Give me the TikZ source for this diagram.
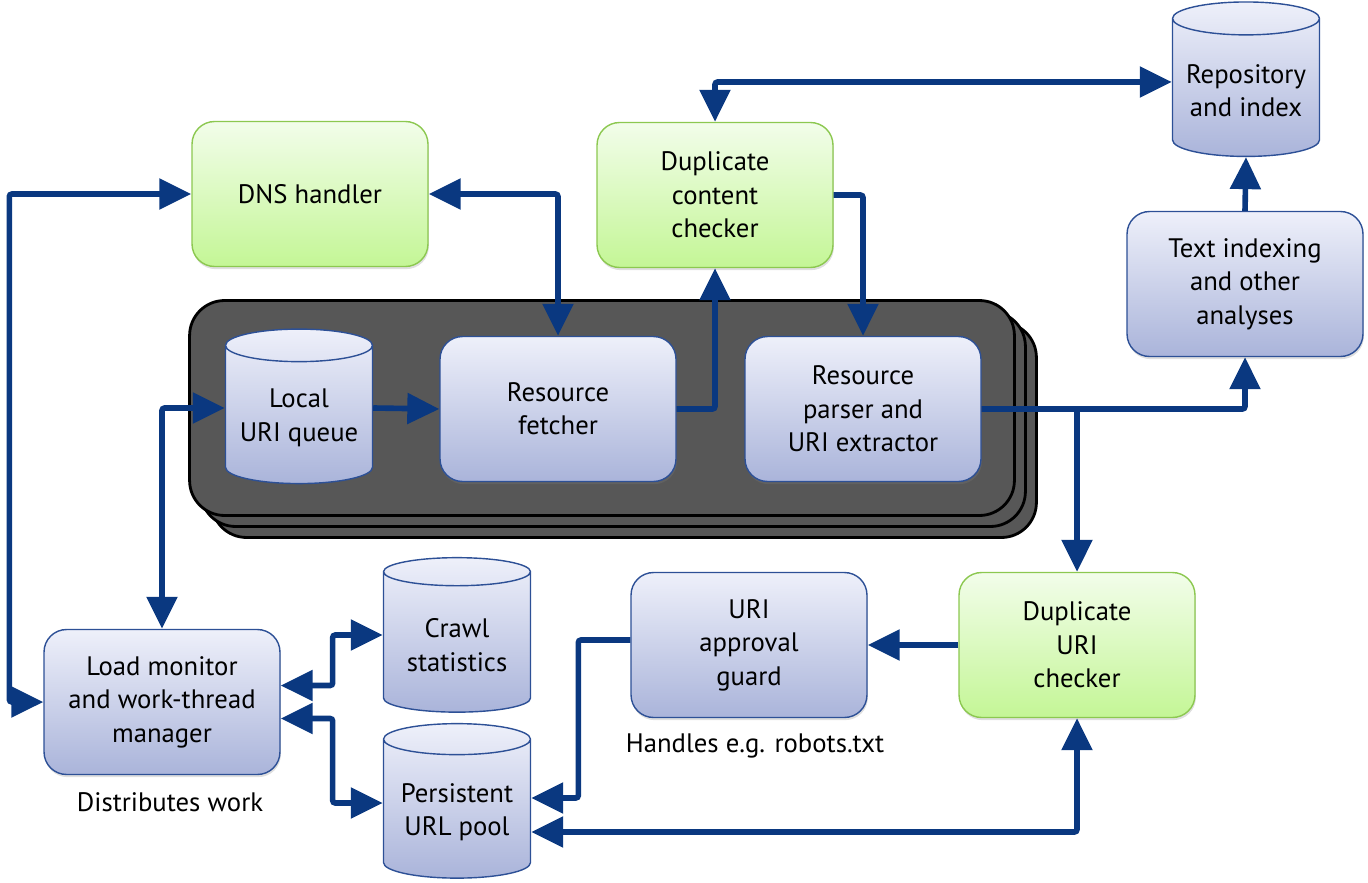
\documentclass[tikz,border=0pt]{standalone}
\usepackage{fontspec}
\setmainfont{PT Sans}
\usetikzlibrary{positioning,arrows.meta,shapes.geometric,shadows}

\definecolor{flow}{RGB}{10,56,128}
\definecolor{bluetop}{RGB}{238,240,250}
\definecolor{bluebot}{RGB}{170,180,218}
\definecolor{blueline}{RGB}{45,80,150}
\definecolor{greentop}{RGB}{242,253,234}
\definecolor{greenbot}{RGB}{196,246,150}
\definecolor{greenline}{RGB}{140,200,80}
\definecolor{stackfill}{RGB}{87,87,87}

\begin{document}
\begin{tikzpicture}[x=0.02cm, y=-0.02cm,
  every node/.style={font=\fontsize{15.2}{19}\selectfont},
  >={Triangle[length=0.64cm,width=0.6cm]},
  proc/.style={rectangle, rounded corners=0.45cm, draw=blueline, line width=0.8pt,
    top color=bluetop, bottom color=bluebot, minimum width=4.72cm,
    minimum height=2.9cm, align=center,
    drop shadow={opacity=0.25, shadow xshift=0.5pt, shadow yshift=-1.5pt}},
  chk/.style={proc, draw=greenline, top color=greentop, bottom color=greenbot},
  store/.style={cylinder, shape border rotate=90, aspect=0.25, draw=blueline,
    line width=0.8pt, top color=bluetop, bottom color=bluebot,
    minimum width=2.94cm, minimum height=3.09cm, align=center},
  layer/.style={rectangle, rounded corners=0.7cm, draw=black, line width=1.6pt,
    fill=stackfill, minimum width=16.5cm, minimum height=4.3cm},
  link/.style={draw=flow, line width=3.2pt, rounded corners=1.5pt, ->},
  both/.style={link, <->}]
\useasboundingbox (0,0) rectangle (1368,882);

% worker stack
\node[layer] (back2) at (624,430) {};
\node[layer] (back1) at (613,419) {};
\node[layer] (front) at (602,408) {};

\node[store] (queue) at (299,418) {Local\\URI queue};
\node[proc] (fetch) at (558,409) {Resource\\fetcher};
\node[proc] (parse) at (863,409) {Resource\\parser and\\URI extractor};

% upper row
\node[chk] (dns) at (310,194) {DNS handler};
\node[chk] (dcc) at (715,195) {Duplicate\\content\\checker};
\node[store] (repo) at (1246,91) {Repository\\and index};
\node[proc] (txt) at (1245,284) {Text indexing\\and other\\analyses};

% lower row
\node[proc] (lm) at (162,702) {Load monitor\\and work-thread\\manager};
\node[store] (crawl) at (457,645) {Crawl\\statistics};
\node[store] (pool) at (457,812) {Persistent\\URL pool};
\node[proc] (guard) at (749,645) {URI\\approval\\guard};
\node[chk] (duri) at (1077,645) {Duplicate\\URI\\checker};

\node (distlbl) at (170,802) {Distributes work};
\node (guardlbl) at (755,746) {Handles e.g. robots.txt};

\draw[both] (lm.west) -- ++(-34,0) |- (dns.west);
\draw[both] ([yshift=0.2cm]queue.west) -| (lm.north);
\draw[link] ([yshift=0.2cm]queue.east) -- (fetch.west);
\draw[both] (dns.east) -| (fetch.north);
\draw[link] (fetch.east) -| (dcc.south);
\draw[link] (dcc.east) -| (parse.north);
\draw[both] (dcc.north) |- ([yshift=0.18cm]repo.west);
\draw[link] (txt.north) -- (repo.south);
\draw[link] (parse.east) -| (txt.south);
\draw[link] (parse.east -| duri.north) -- (duri.north);
\draw[link] (duri.west) -- (guard.east);
\draw[link] ([yshift=0.1cm]guard.west) -- ++(-52,0) |- ([yshift=0.28cm]pool.east);
\draw[both] ([yshift=-0.4cm]pool.east) -| (duri.south);
\draw[both] ([yshift=0.33cm]lm.east) -- ++(52,0) |- ([yshift=0.2cm]crawl.west);
\draw[both] ([yshift=-0.33cm]lm.east) -- ++(52,0) |- ([yshift=0.18cm]pool.west);
\end{tikzpicture}
\end{document}
